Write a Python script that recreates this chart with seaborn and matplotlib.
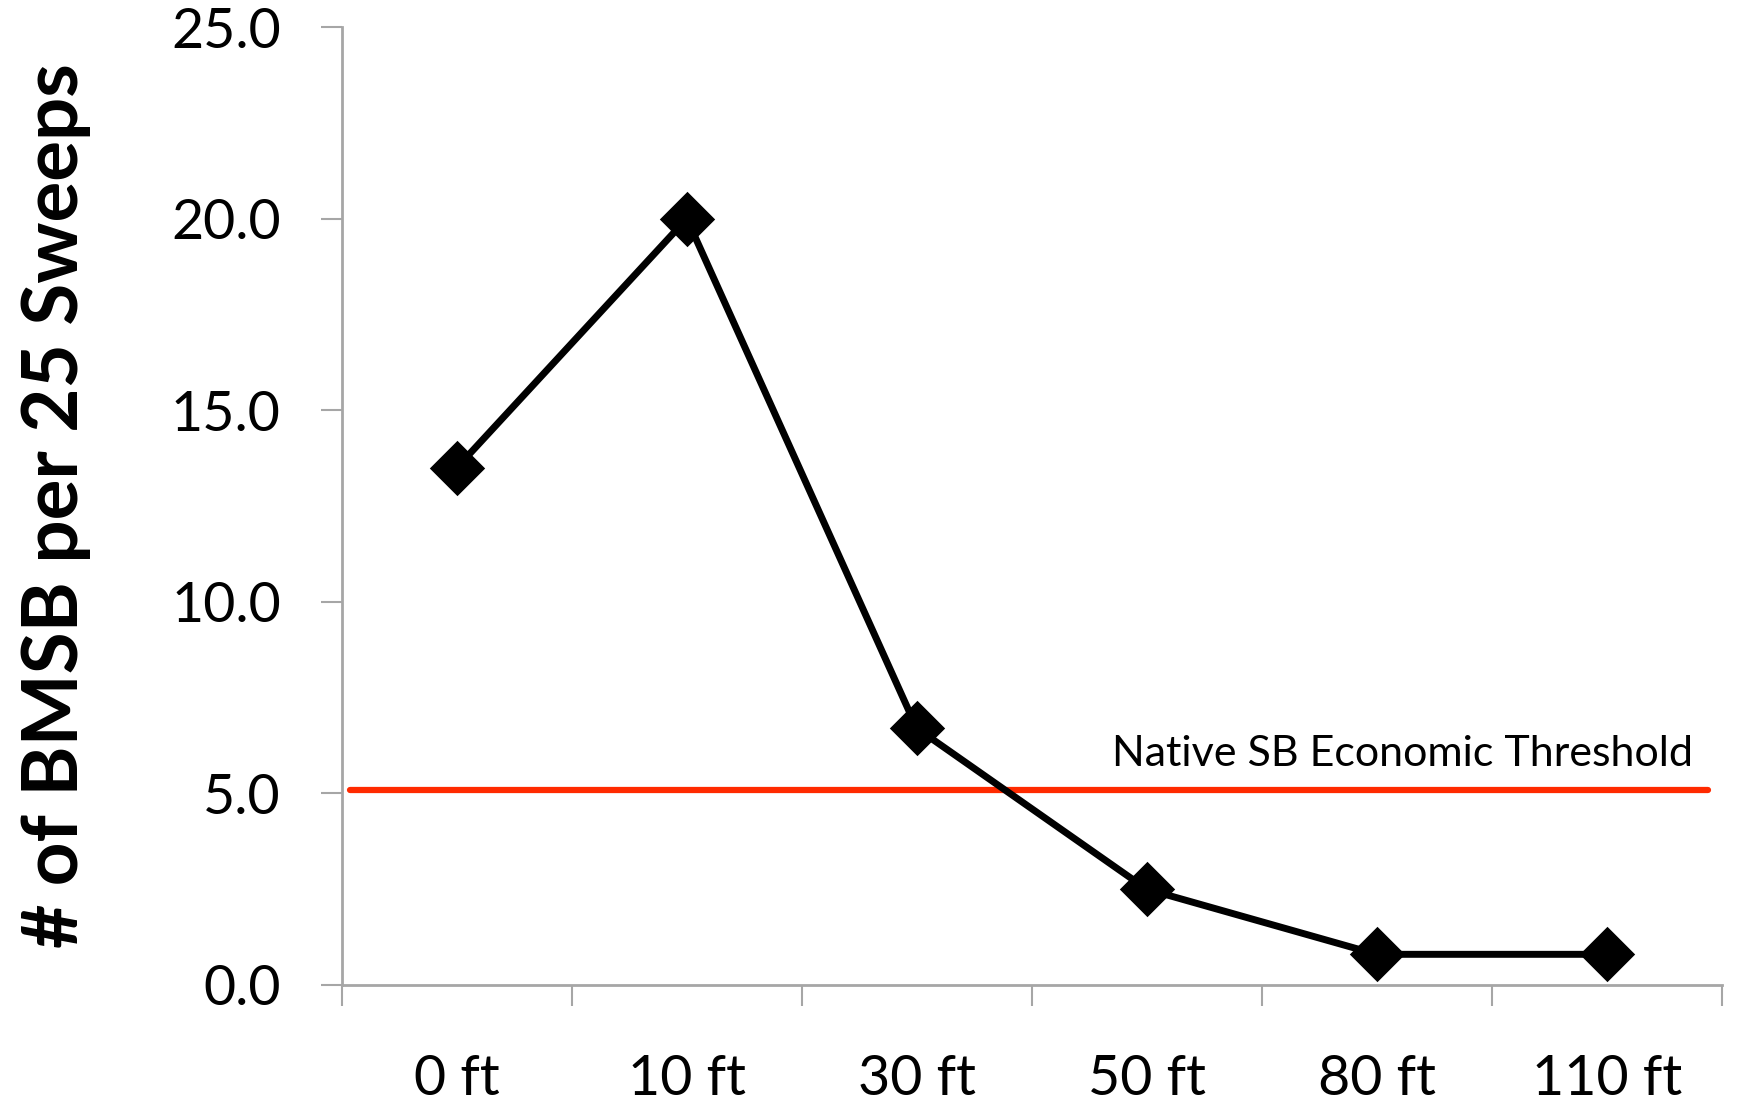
import matplotlib
matplotlib.use("Agg")
import matplotlib.pyplot as plt
import seaborn as sns
import pandas as pd
from matplotlib.ticker import FixedLocator, FormatStrFormatter

categories = ["0 ft", "10 ft", "30 ft", "50 ft", "80 ft", "110 ft"]
bmsb_counts = [13.5, 20.0, 6.7, 2.5, 0.8, 0.8]
threshold = 5.1
threshold_label = "Native SB Economic Threshold"
y_label = "# of BMSB per 25 Sweeps"
y_ticks = [0, 5, 10, 15, 20, 25]

sns.set_style("white")
plt.rcParams["font.family"] = ["Lato", "DejaVu Sans"]
plt.rcParams["text.color"] = "black"
plt.rcParams["axes.labelcolor"] = "black"
plt.rcParams["xtick.labelcolor"] = "black"
plt.rcParams["ytick.labelcolor"] = "black"

df = pd.DataFrame({"distance": categories, "count": bmsb_counts})

fig = plt.figure(figsize=(17.39, 11.03), dpi=100)
ax = fig.add_axes([0.1966, 0.107, 0.7934, 0.8685])

sns.pointplot(data=df, x="distance", y="count", order=categories, color="black",
              markers="D", markersize=24, linewidth=5, errorbar=None, ax=ax)

ax.plot([-0.465, 5.44], [threshold, threshold], color="#ff2a00", linewidth=4.5, zorder=1)
ax.text(5.374, threshold + 0.42, threshold_label, ha="right", va="bottom",
        fontsize=31, color="black")

ax.set_xlim(-0.5, 5.5)
ax.set_ylim(0, 25)
ax.set_yticks(y_ticks)
ax.yaxis.set_major_formatter(FormatStrFormatter("%.1f"))
ax.xaxis.set_minor_locator(FixedLocator([i - 0.5 for i in range(len(categories) + 1)]))

for s in ["top", "right"]:
    ax.spines[s].set_visible(False)
for s in ["left", "bottom"]:
    ax.spines[s].set_color("#a6a6a6")
    ax.spines[s].set_linewidth(2)

ax.tick_params(axis="y", which="major", length=15, width=1.5, color="#a6a6a6",
               labelsize=40, pad=29, left=True, labelcolor="black")
ax.tick_params(axis="x", which="major", length=0, labelsize=40, pad=50, labelcolor="black")
ax.tick_params(axis="x", which="minor", length=15, width=1.5, color="#a6a6a6", bottom=True)

ax.set_xlabel("")
ax.set_ylabel(y_label, fontsize=55, fontweight="bold", color="black")
ax.yaxis.set_label_coords(-0.182, 0.5)

fig.savefig("out.png", dpi=100)
